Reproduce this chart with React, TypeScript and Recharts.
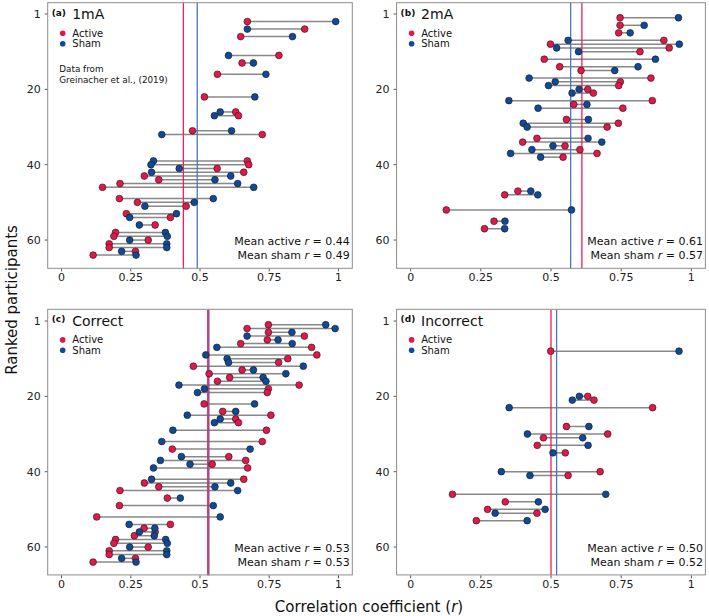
import React from 'react';
import { ScatterChart, Scatter, XAxis, YAxis, ReferenceLine } from 'recharts';

// ---- tick values / labels ----
const xTicks = [0, 0.25, 0.5, 0.75, 1];
const xTickLabels = ['0', '0.25', '0.5', '0.75', '1'];
const yTicks = [0, 20, 40, 60];
const yTickLabels = ['1', '20', '40', '60'];

// ---- panel (a) 1mA ----
const ranksA = [2, 4, 6, 11, 13, 16, 22, 26, 27, 31, 32, 39, 40, 41, 42, 43, 44, 45, 46, 49, 50, 51, 53, 54, 56, 58, 59, 60, 61, 62, 63, 64];
const activeA = [0.671, 0.878, 0.647, 0.785, 0.652, 0.563, 0.516, 0.629, 0.639, 0.473, 0.725, 0.671, 0.676, 0.562, 0.658, 0.299, 0.351, 0.211, 0.148, 0.209, 0.274, 0.45, 0.234, 0.393, 0.338, 0.195, 0.189, 0.313, 0.172, 0.172, 0.267, 0.114];
const shamA = [0.99, 0.671, 0.834, 0.603, 0.693, 0.738, 0.698, 0.573, 0.552, 0.614, 0.362, 0.332, 0.323, 0.425, 0.325, 0.611, 0.554, 0.636, 0.694, 0.548, 0.479, 0.301, 0.415, 0.246, 0.281, 0.375, 0.382, 0.246, 0.38, 0.38, 0.217, 0.269];

// ---- panel (b) 2mA ----
const ranksB = [1, 3, 5, 7, 8, 9, 10, 12, 14, 15, 17, 18, 19, 20, 21, 23, 24, 25, 28, 29, 30, 33, 34, 35, 36, 37, 38, 47, 48, 52, 55, 57];
const activeB = [0.746, 0.746, 0.741, 0.902, 0.498, 0.921, 0.817, 0.476, 0.531, 0.607, 0.856, 0.747, 0.741, 0.631, 0.651, 0.861, 0.581, 0.756, 0.555, 0.74, 0.7, 0.45, 0.399, 0.55, 0.603, 0.664, 0.543, 0.382, 0.335, 0.127, 0.297, 0.263];
const shamB = [0.954, 0.832, 0.782, 0.561, 0.957, 0.52, 0.598, 0.872, 0.81, 0.727, 0.422, 0.515, 0.491, 0.6, 0.575, 0.35, 0.628, 0.454, 0.633, 0.401, 0.415, 0.632, 0.681, 0.507, 0.432, 0.356, 0.463, 0.428, 0.453, 0.573, 0.336, 0.335];

// ---- panel (c) Correct ----
const ranksC = [1, 2, 3, 4, 5, 6, 7, 9, 10, 11, 12, 13, 14, 15, 16, 17, 18, 19, 22, 24, 25, 26, 27, 29, 32, 34, 36, 37, 38, 39, 42, 43, 44, 45, 47, 49, 52, 54, 55, 56, 57, 58, 59, 60, 61, 62, 63, 64];
const activeC = [0.747, 0.67, 0.747, 0.877, 0.743, 0.647, 0.903, 0.922, 0.817, 0.784, 0.476, 0.652, 0.533, 0.607, 0.563, 0.858, 0.747, 0.743, 0.515, 0.582, 0.756, 0.629, 0.639, 0.74, 0.725, 0.4, 0.604, 0.665, 0.544, 0.672, 0.658, 0.299, 0.351, 0.211, 0.382, 0.209, 0.127, 0.393, 0.298, 0.338, 0.263, 0.195, 0.189, 0.313, 0.172, 0.172, 0.267, 0.114];
const shamC = [0.954, 0.988, 0.832, 0.67, 0.782, 0.833, 0.561, 0.521, 0.598, 0.603, 0.873, 0.693, 0.81, 0.728, 0.738, 0.424, 0.516, 0.491, 0.697, 0.629, 0.454, 0.573, 0.552, 0.402, 0.362, 0.681, 0.433, 0.357, 0.464, 0.332, 0.325, 0.611, 0.554, 0.636, 0.429, 0.548, 0.573, 0.244, 0.337, 0.281, 0.335, 0.376, 0.382, 0.246, 0.38, 0.38, 0.217, 0.269];

// ---- panel (d) Incorrect ----
const ranksD = [8, 20, 21, 23, 28, 30, 31, 33, 35, 40, 41, 46, 48, 50, 51, 53];
const activeD = [0.499, 0.631, 0.653, 0.862, 0.555, 0.702, 0.473, 0.451, 0.551, 0.675, 0.561, 0.149, 0.337, 0.274, 0.45, 0.234];
const shamD = [0.956, 0.601, 0.576, 0.351, 0.635, 0.416, 0.613, 0.632, 0.507, 0.323, 0.425, 0.695, 0.455, 0.479, 0.301, 0.415];

// ---- panel texts and means ----
const panelLetters = ['(a)', '(b)', '(c)', '(d)'];
const panelTitles = ['1mA', '2mA', 'Correct', 'Incorrect'];
const meanActive = [0.44, 0.61, 0.53, 0.5];
const meanSham = [0.49, 0.57, 0.53, 0.52];
const meanActiveLabels = ['0.44', '0.61', '0.53', '0.50'];
const meanShamLabels = ['0.49', '0.57', '0.53', '0.52'];

const ACTIVE = '#E3174A';
const SHAM = '#0E4A97';
const ACTIVE_LINE = '#F01E5A';
const SHAM_LINE = '#4677C2';
const FONT = '"DejaVu Sans", Verdana, sans-serif';

const panelData = [
  { ranks: ranksA, active: activeA, sham: shamA },
  { ranks: ranksB, active: activeB, sham: shamB },
  { ranks: ranksC, active: activeC, sham: shamC },
  { ranks: ranksD, active: activeD, sham: shamD },
];

// geometry
const CH_W = 353;
const CH_H = 300;
const Y_AXIS_W = 40;
const X_AXIS_H = 30;
const panels = [
  { cx: 0, cy: 0, ml: 7.7, mr: 0.7 },
  { cx: 356, cy: 0, ml: 0.6, mr: 3.6 },
  { cx: 0, cy: 306.6, ml: 7.7, mr: 0.7 },
  { cx: 356, cy: 306.6, ml: 0.6, mr: 3.6 },
];
const M_TOP = 2.7;
const M_BOTTOM = 1.7;

const makeDot = (color: string) => (props: any) => (
  <circle cx={props.cx} cy={props.cy} r={3.4} fill={color} stroke="#1a1a1a" strokeWidth={0.6} />
);

const tickStyle = { fontSize: 11, fill: '#222', fontFamily: FONT };

function Panel({ idx }: { idx: number }) {
  const p = panels[idx];
  const d = panelData[idx];
  const activePts = d.ranks.map((r, i) => ({ x: d.active[i], y: r }));
  const shamPts = d.ranks.map((r, i) => ({ x: d.sham[i], y: r }));
  return (
    <div style={{ position: 'absolute', left: p.cx, top: p.cy }}>
      <ScatterChart
        width={CH_W}
        height={CH_H}
        margin={{ top: M_TOP, right: p.mr, bottom: M_BOTTOM, left: p.ml }}
      >
        <XAxis
          type="number"
          dataKey="x"
          domain={[-0.05, 1.05]}
          ticks={xTicks}
          tickFormatter={(v: number) => xTickLabels[xTicks.indexOf(v)] ?? String(v)}
          height={X_AXIS_H}
          axisLine={false}
          tickLine={{ stroke: '#555' }}
          tickSize={3}
          tickMargin={2}
          tick={tickStyle}
          allowDataOverflow
        />
        <YAxis
          type="number"
          dataKey="y"
          domain={[-3, 67.5]}
          reversed
          ticks={yTicks}
          tickFormatter={(v: number) => yTickLabels[yTicks.indexOf(v)] ?? String(v)}
          width={Y_AXIS_W}
          axisLine={false}
          tickLine={{ stroke: '#555' }}
          tickSize={3}
          tickMargin={4}
          tick={tickStyle}
          allowDataOverflow
        />
        {d.ranks.map((r, i) => (
          <ReferenceLine
            key={'seg' + i}
            segment={[{ x: d.active[i], y: r }, { x: d.sham[i], y: r }]}
            stroke="#888"
            strokeWidth={1.5}
          />
        ))}
        <ReferenceLine x={meanActive[idx]} stroke={ACTIVE_LINE} strokeWidth={idx === 2 ? 2.4 : 1.3} />
        <ReferenceLine x={meanSham[idx]} stroke={SHAM_LINE} strokeWidth={idx === 2 ? 1 : 1.3} strokeOpacity={idx === 2 ? 0.85 : 1} />
        <Scatter data={activePts} fill={ACTIVE} shape={makeDot(ACTIVE)} isAnimationActive={false} />
        <Scatter data={shamPts} fill={SHAM} shape={makeDot(SHAM)} isAnimationActive={false} />
      </ScatterChart>
    </div>
  );
}

function Annotations() {
  return (
    <svg width={709} height={616} style={{ position: 'absolute', left: 0, top: 0, pointerEvents: 'none' }} fontFamily={FONT}>
      {panels.map((p, idx) => {
        const L = p.cx + p.ml + Y_AXIS_W;
        const R = p.cx + CH_W - p.mr;
        const T = p.cy + M_TOP;
        const B = p.cy + CH_H - M_BOTTOM - X_AXIS_H;
        return (
          <g key={idx}>
            <rect x={L} y={T} width={R - L} height={B - T} fill="none" stroke="#8c8c8c" strokeWidth={1} />
            <text x={L + 4} y={T + 13} fontSize={9} fontWeight="bold" fill="#111">{panelLetters[idx]}</text>
            <text x={L + 24.5} y={T + 16.6} fontSize={14} fill="#111">{panelTitles[idx]}</text>
            <circle cx={L + 15} cy={T + 30.6} r={2.8} fill={ACTIVE} />
            <circle cx={L + 15} cy={T + 41} r={2.8} fill={SHAM} />
            <text x={L + 24.6} y={T + 34} fontSize={10} fill="#111">Active</text>
            <text x={L + 24.6} y={T + 44.4} fontSize={10} fill="#111">Sham</text>
            {idx === 0 && (
              <g>
                <text x={L + 11.6} y={T + 69} fontSize={8.8} fill="#111">Data from</text>
                <text x={L + 11.6} y={T + 80.6} fontSize={8.8} fill="#111">Greinacher et al., (2019)</text>
              </g>
            )}
            <text x={R - 2.5} y={B - 23.3} fontSize={11} textAnchor="end" fill="#111">
              Mean active <tspan fontStyle="italic">r</tspan> = {meanActiveLabels[idx]}
            </text>
            <text x={R - 2.5} y={B - 9} fontSize={11} textAnchor="end" fill="#111">
              Mean sham <tspan fontStyle="italic">r</tspan> = {meanShamLabels[idx]}
            </text>
          </g>
        );
      })}
      <text x={369} y={612} fontSize={15} textAnchor="middle" fill="#111">
        Correlation coefficient (<tspan fontStyle="italic">r</tspan>)
      </text>
      <text x={17} y={300} fontSize={15} textAnchor="middle" fill="#111" transform="rotate(-90 17 300)">
        Ranked participants
      </text>
    </svg>
  );
}

export default function App() {
  return (
    <div style={{ position: 'absolute', left: 0, top: 0, width: 709, height: 616, background: '#fff', overflow: 'hidden' }}>
      {panels.map((_, i) => (
        <Panel key={i} idx={i} />
      ))}
      <Annotations />
    </div>
  );
}
